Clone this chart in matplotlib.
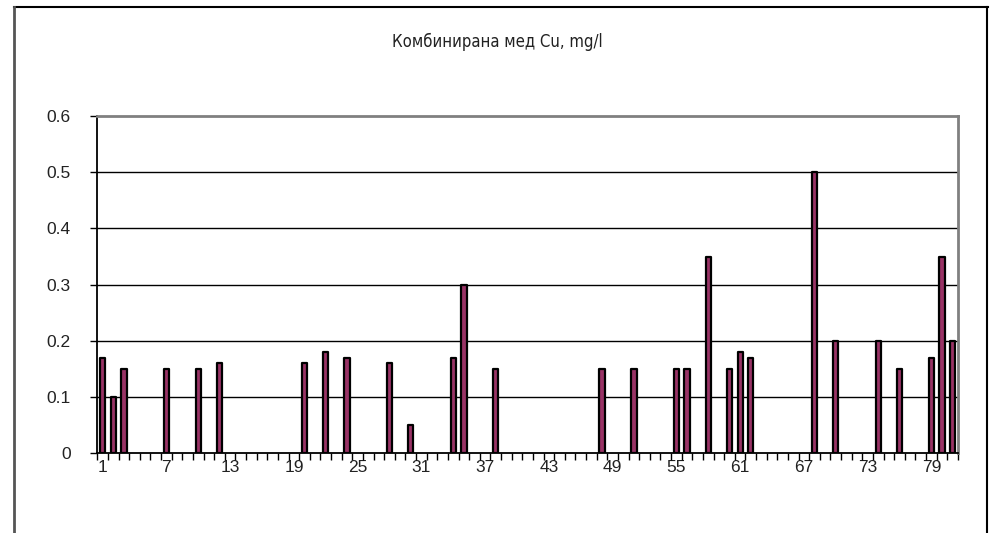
import numpy as np
import matplotlib
matplotlib.use('Agg')
import matplotlib.pyplot as plt
from matplotlib.lines import Line2D

# sample numbers 1..81, only the non-zero ones are listed
n_cat = 81
samples = [1, 2, 3, 7, 10, 12, 20, 22, 24, 28, 30, 34, 35, 38, 48, 51,
           55, 56, 58, 60, 61, 62, 68, 70, 74, 76, 79, 80, 81]
cu = [0.17, 0.10, 0.15, 0.15, 0.15, 0.16, 0.16, 0.18, 0.17, 0.16, 0.05, 0.17, 0.30, 0.15, 0.15, 0.15,
      0.15, 0.15, 0.35, 0.15, 0.18, 0.17, 0.50, 0.20, 0.20, 0.15, 0.17, 0.35, 0.20]
xlabels = list(range(1, 80, 6))
yticks = [0, 0.1, 0.2, 0.3, 0.4, 0.5, 0.6]
title = 'Комбинирана мед Cu, mg/l'

plt.rcParams['font.family'] = ['Liberation Sans', 'DejaVu Sans']

fig = plt.figure(figsize=(9.95, 5.33), dpi=100)
ax = fig.add_axes([0.0978, 0.1495, 0.865, 0.633])

ax.bar(samples, cu, width=0.5, color='#993366', edgecolor='black', linewidth=1.6,
       joinstyle='round', zorder=3)

ax.set_xlim(0.5, n_cat + 0.5)
ax.set_ylim(0, 0.6)
ax.set_yticks(yticks)
ax.set_yticklabels(['0' if v == 0 else '%.1f' % v for v in yticks], fontsize=12.5, color='#222222')
ax.set_xticks(xlabels)
ax.set_xticklabels([str(v) for v in xlabels], fontsize=12.5, color='#222222')
ax.set_xticks(np.arange(0.5, n_cat + 1), minor=True)
ax.tick_params(axis='x', which='major', length=0, pad=5)
ax.tick_params(axis='x', which='minor', length=5, width=1, direction='out', color='black')
ax.tick_params(axis='y', which='major', length=5, width=1, direction='out', pad=14)

for v in yticks[1:-1]:
    ax.axhline(v, color='black', linewidth=1, zorder=1)

ax.spines['left'].set_color('black')
ax.spines['bottom'].set_color('black')
ax.spines['top'].set_color('#808080')
ax.spines['right'].set_color('#808080')
for s in ax.spines.values():
    s.set_linewidth(1.3)
ax.spines['top'].set_linewidth(2)
ax.spines['right'].set_linewidth(2)

fig.text(0.5, 1 - 42 / 533, title, ha='center', va='center', fontsize=12,
         family=['DejaVu Sans'], fontstretch='condensed', color='#222222')

# outer chart frame
W, H = 995, 533
fig.add_artist(Line2D([14 / W, 988 / W], [1 - 6.5 / H, 1 - 6.5 / H], color='black', linewidth=1.5))
fig.add_artist(Line2D([14.5 / W, 14.5 / W], [0, 1 - 6.5 / H], color='#555555', linewidth=2))
fig.add_artist(Line2D([987.5 / W, 987.5 / W], [0, 1 - 6.5 / H], color='black', linewidth=1.5))

fig.savefig('out.png', dpi=100)
